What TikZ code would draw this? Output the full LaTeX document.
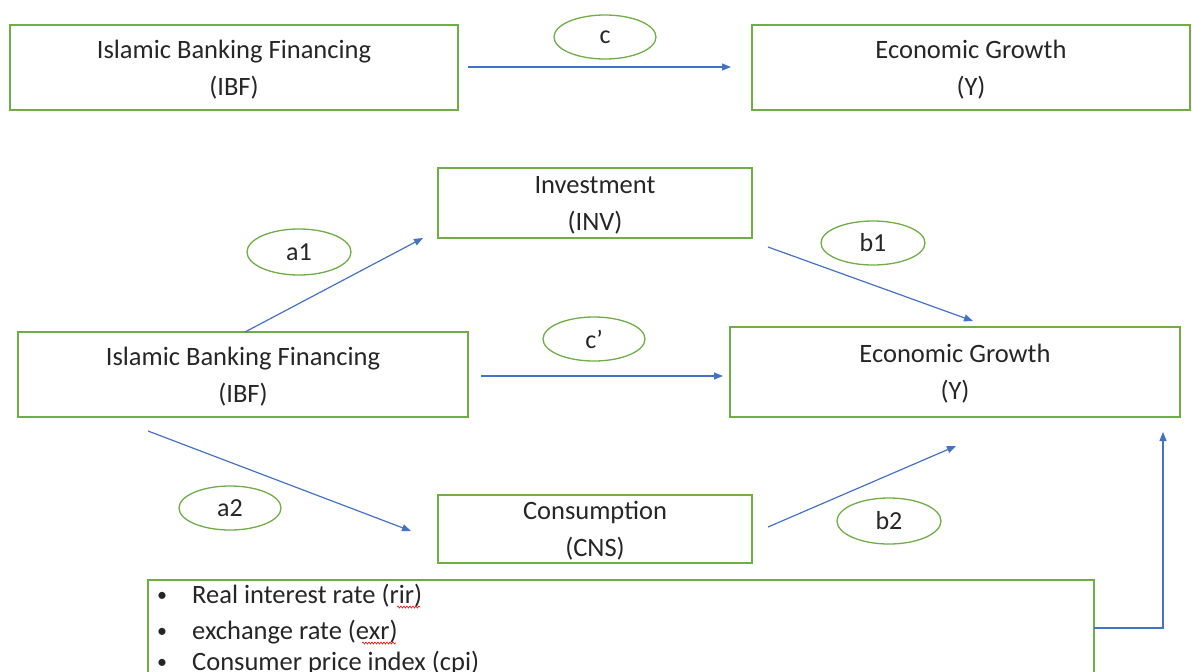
\documentclass[tikz,border=0pt]{standalone}
\usepackage{fontspec}
\setmainfont{Carlito}
\usetikzlibrary{arrows.meta,shapes.geometric,decorations.pathmorphing}
\definecolor{gr}{RGB}{112,173,71}
\definecolor{bl}{RGB}{68,114,196}
\begin{document}
\begin{tikzpicture}[x=1pt,y=-1pt,
  box/.style={draw=gr,line width=1.3pt,rectangle,align=center,inner sep=0pt,
    font=\fontsize{26.5}{37}\selectfont,text=black!85,text depth=0pt},
  boxlow/.style={box,text depth=-4pt},
  lab/.style={draw=gr,line width=1.3pt,ellipse,minimum width=102pt,minimum height=44pt,
    inner sep=0pt,font=\fontsize{26}{30}\selectfont,text=black!85},
  arr/.style={draw=bl,line width=1.2pt,-{Triangle[length=9pt,width=7pt]}},
  item/.style={anchor=base west,inner sep=0pt,font=\fontsize{26.5}{30}\selectfont,text=black!85},
  dot/.style={anchor=base west,inner sep=0pt,font=\fontsize{20}{24}\selectfont,text=black!85},
  squig/.style={draw=red,line width=0.6pt,decorate,decoration={snake,amplitude=1pt,segment length=3pt}}]
\useasboundingbox (0,0) rectangle (1192,672);
\clip (0,0) rectangle (1192,672);
% top row
\node[box,minimum width=448pt,minimum height=85pt] (ibf0) at (234,67.5) {Islamic Banking Financing\\(IBF)};
\node[box,minimum width=438pt,minimum height=85pt] (y0) at (971,67.5) {Economic Growth\\(Y)};
\node[lab] (c) at (605,37) {c};
\coordinate (c0s) at (468,67);
\coordinate (c0e) at (731,67);
\draw[arr] (c0s) -- (c0e);
% mediation
\node[box,minimum width=314pt,minimum height=70pt] (inv) at (595,203) {Investment\\(INV)};
\node[box,minimum width=450pt,minimum height=85pt] (ibf) at (243,374.5) {Islamic Banking Financing\\(IBF)};
\node[boxlow,minimum width=450pt,minimum height=90pt] (y) at (955,372) {Economic Growth\\(Y)};
\node[box,minimum width=314pt,minimum height=68pt] (cns) at (595,529) {Consumption\\(CNS)};
\node[lab,minimum width=104pt,minimum height=46pt] (a1) at (299,252) {a1};
\node[lab,minimum width=104pt] (b1) at (873,243) {b1};
\node[lab] (cp) at (594,339) {c’};
\node[lab] (a2) at (230,508) {a2};
\node[lab,minimum width=104pt,minimum height=46pt] (b2) at (889,521) {b2};
\coordinate (a1s) at (245,332);
\coordinate (a1e) at (423,238);
\coordinate (b1s) at (768,247);
\coordinate (b1e) at (973,321);
\coordinate (cps) at (481,376);
\coordinate (cpe) at (723,376);
\coordinate (a2s) at (148,431);
\coordinate (a2e) at (411,531);
\coordinate (b2s) at (768,527);
\coordinate (b2e) at (956,446);
\draw[arr] (a1s) -- (a1e);
\draw[arr] (b1s) -- (b1e);
\draw[arr] (cps) -- (cpe);
\draw[arr] (a2s) -- (a2e);
\draw[arr] (b2s) -- (b2e);
% controls
\node[draw=gr,line width=1.3pt,rectangle,minimum width=946pt,minimum height=110pt,inner sep=0pt] (ctl) at (621,635) {};
\node[item] (i1) at (192,603) {Real interest rate (rir)};
\node[item] (i2) at (192,639) {exchange rate (exr)};
\node[item] (i3) at (192,670) {Consumer price index (cpi)};
\node[dot] (d1) at (157,601) {•};
\node[dot] (d2) at (157,637) {•};
\node[dot] (d3) at (157,668) {•};
\coordinate (ctlout) at (1094,628);
\coordinate (yin) at (1163,432);
\draw[arr] (ctlout) -| (yin);
\draw[squig] (397,607) -- (420,607);
\draw[squig] (362,643) -- (396,643);
\end{tikzpicture}
\end{document}
